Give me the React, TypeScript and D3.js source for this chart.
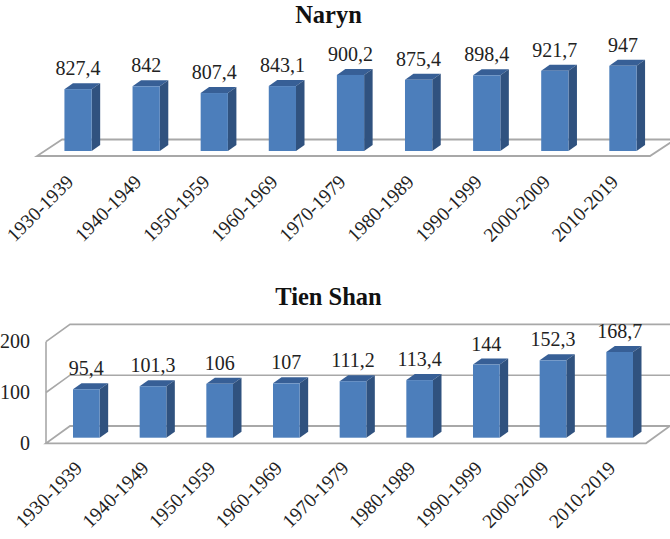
import React from "react";
import * as d3 from "d3";

const decades = ["1930-1939", "1940-1949", "1950-1959", "1960-1969", "1970-1979", "1980-1989", "1990-1999", "2000-2009", "2010-2019"];
const narynValues = [827.4, 842, 807.4, 843.1, 900.2, 875.4, 898.4, 921.7, 947];
const tienShanValues = [95.4, 101.3, 106, 107, 111.2, 113.4, 144, 152.3, 168.7];
const tienShanTicks = [0, 100, 200];

const SERIF = "'Liberation Serif', 'Times New Roman', serif";
const FRONT = "#4c7ebb";
const SIDE = "#30527f";
const TOP = "#375f96";
const GRID = "#a8a8a8";
const comma = (v: number) => String(v).replace(".", ",");

type PanelProps = {
  title: string;
  titleY: number;
  values: number[];
  domain: [number, number];
  pxRange: number;
  x0: number;
  x1: number;
  floorY: number;
  floorDx: number;
  floorDy: number;
  barDx: number;
  barDy: number;
  labelOffset: [number, number];
  ticks?: number[];
};

function Panel({ title, titleY, values, domain, pxRange, x0, x1, floorY, floorDx, floorDy, barDx, barDy, labelOffset, ticks }: PanelProps) {
  const x = d3.scaleBand<string>().domain(decades).range([x0, x1]).paddingInner(0.6).paddingOuter(0.3);
  // Heights are measured from the front edge of the floor.
  const h = d3.scaleLinear().domain(domain).range([0, pxRange]);
  const depthX = 8.5;
  const depthY = 6;
  const barBase = floorY - barDy;
  const w = x.bandwidth();
  const floorPath = d3.line()([
    [x0 + floorDx, floorY - floorDy],
    [x0, floorY],
    [x1, floorY],
    [x1 + floorDx, floorY - floorDy],
  ]);
  return (
    <g>
      <text x={328.5} y={titleY} textAnchor="middle" fontFamily={SERIF} fontWeight="bold" fontSize={24.5} fill="#111">{title}</text>
      {ticks?.map((t) => {
        const yy = floorY - h(t);
        return (
          <g key={t}>
            {t > 0 && (
              <path
                d={d3.line()([[x0, yy], [x0 + floorDx, yy - floorDy], [670, yy - floorDy]]) ?? ""}
                fill="none"
                stroke={GRID}
                strokeWidth={1.6}
              />
            )}
            <text x={30} y={yy + 6.5} textAnchor="end" fontFamily={SERIF} fontSize={20} fill="#222">{t}</text>
          </g>
        );
      })}
      {ticks && (
        <line x1={x0} x2={x0} y1={floorY} y2={floorY - h(ticks[ticks.length - 1])} stroke={GRID} strokeWidth={1.6} />
      )}
      <path d={floorPath + "Z"} fill="#fff" stroke={GRID} strokeWidth={1.8} strokeLinejoin="miter" />
      {values.map((v, i) => {
        const left = (x(decades[i]) ?? 0) + barDx;
        const right = left + w;
        const top = barBase - h(v);
        return (
          <g key={decades[i]}>
            <path d={`M${left},${top}L${left + depthX},${top - depthY}H${right + depthX}L${right},${top}Z`} fill={TOP} />
            <path d={`M${right},${top}L${right + depthX},${top - depthY}V${barBase - depthY}L${right},${barBase}Z`} fill={SIDE} />
            <rect x={left} y={top} width={w} height={barBase - top} fill={FRONT} />
            <text x={left + w / 2} y={top - depthY - 8} textAnchor="middle" fontFamily={SERIF} fontSize={20} fill="#222">{comma(v)}</text>
            <text
              transform={`translate(${left + w / 2 + labelOffset[0]},${floorY + labelOffset[1]}) rotate(-45)`}
              textAnchor="end"
              fontFamily={SERIF}
              fontSize={19.5}
              fill="#222"
            >
              {decades[i]}
            </text>
          </g>
        );
      })}
    </g>
  );
}

export default function App() {
  return (
    <svg width={670} height={539} style={{ position: "absolute", left: 0, top: 0, background: "#fff" }}>
      <Panel
        title="Naryn"
        titleY={23}
        values={narynValues}
        domain={[510, 1000]}
        pxRange={95.5}
        x0={37}
        x1={650}
        floorY={156}
        floorDx={25}
        floorDy={16.5}
        barDx={7}
        barDy={5}
        labelOffset={[-3.5, 27]}
      />
      <Panel
        title="Tien Shan"
        titleY={305}
        values={tienShanValues}
        domain={[0, 200]}
        pxRange={101.6}
        x0={46}
        x1={646}
        floorY={443.3}
        floorDx={24}
        floorDy={17.3}
        barDx={7}
        barDy={5.6}
        labelOffset={[-3, 26]}
        ticks={tienShanTicks}
      />
    </svg>
  );
}
